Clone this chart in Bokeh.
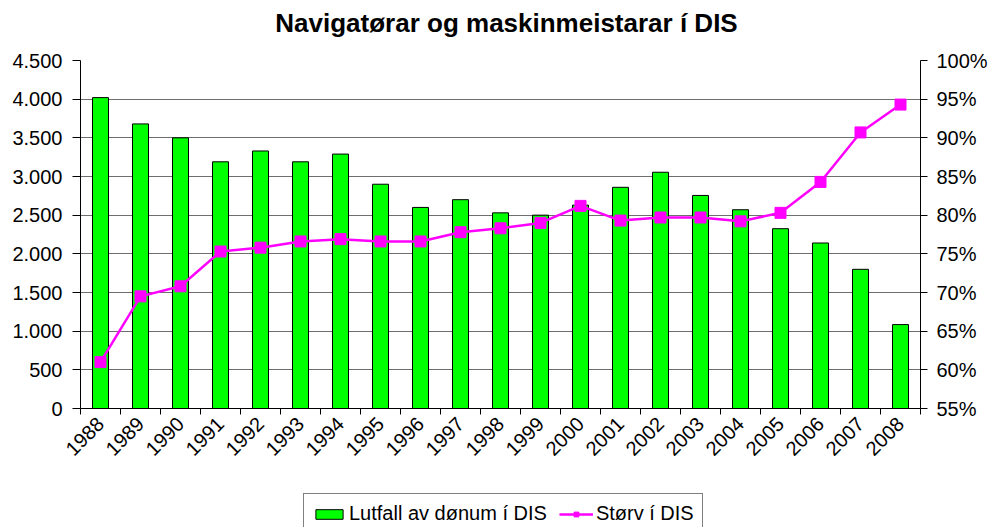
from bokeh.plotting import figure
from bokeh.layouts import column
from bokeh.models import (Range1d, LinearAxis, FixedTicker, PrintfTickFormatter,
                          Legend, LegendItem, Label)
from bokeh.embed import file_html
from bokeh.resources import INLINE
from math import pi

years = ["1988", "1989", "1990", "1991", "1992", "1993", "1994", "1995", "1996", "1997",
         "1998", "1999", "2000", "2001", "2002", "2003", "2004", "2005", "2006", "2007", "2008"]
lutfall = [4020, 3680, 3500, 3190, 3330, 3190, 3290, 2900, 2600, 2700,
           2530, 2500, 2630, 2860, 3055, 2755, 2570, 2325, 2140, 1800, 1085]
storv = [61.0, 69.5, 70.8, 75.3, 75.8, 76.6, 76.9, 76.6, 76.6, 77.8,
         78.3, 79.0, 81.2, 79.3, 79.7, 79.7, 79.2, 80.3, 84.3, 90.7, 94.3]
left_ticks = [0, 500, 1000, 1500, 2000, 2500, 3000, 3500, 4000, 4500]
left_labels = ["0", "500", "1.000", "1.500", "2.000", "2.500", "3.000", "3.500", "4.000", "4.500"]
right_ticks = [55, 60, 65, 70, 75, 80, 85, 90, 95, 100]

title_text = "Navigatørar og maskinmeistarar í DIS"
bar_name = "Lutfall av dønum í DIS"
line_name = "Størv í DIS"

FONT = "Liberation Sans"
BAR_FILL = "#00FF00"
LINE_COL = "#FF00FF"
idx = list(range(len(years)))
W = 994


def strip(h, yr):
    fig = figure(width=W, height=h, output_backend="svg", toolbar_location=None,
                 x_range=Range1d(-0.5, len(years) - 0.5), y_range=yr,
                 x_axis_location=None, y_axis_location=None,
                 min_border=0, min_border_left=0, min_border_right=0,
                 min_border_top=0, min_border_bottom=0)
    fig.frame_align = False
    fig.outline_line_color = None
    fig.background_fill_color = "white"
    fig.border_fill_color = "white"
    fig.xgrid.grid_line_color = None
    fig.ygrid.grid_line_color = None
    return fig


# ---- title strip ----
tf = strip(40, Range1d(0, 1))
tf.add_layout(Label(x=506, y=18, x_units="screen", y_units="screen", text=title_text,
                    text_align="center", text_baseline="alphabetic", text_font=FONT,
                    text_font_size="26px", text_font_style="bold", text_color="black"))

# ---- main chart ----
p = figure(width=W, height=443, output_backend="svg", toolbar_location=None,
           x_range=Range1d(-0.5, len(years) - 0.5), y_range=Range1d(0, 4500),
           min_border_left=80, min_border_right=74, min_border_top=20, min_border_bottom=75)
p.outline_line_color = None
p.background_fill_color = "white"
p.border_fill_color = "white"
p.xgrid.grid_line_color = None
p.extra_y_ranges = {"pct": Range1d(55, 100)}

xa = p.xaxis[0]
xa.ticker = FixedTicker(ticks=idx, minor_ticks=[i - 0.5 for i in range(len(years) + 1)])
xa.major_label_overrides = {i: y for i, y in zip(idx, years)}
xa.major_tick_out = 0
xa.major_tick_in = 0
xa.minor_tick_out = 6
xa.minor_tick_in = 0
xa.minor_tick_line_color = "black"
xa.axis_line_color = "black"
xa.major_label_orientation = pi / 4
xa.major_label_text_font = FONT
xa.major_label_text_font_size = "20px"
xa.major_label_text_color = "black"
xa.major_label_standoff = 6

ya = p.yaxis[0]
ya.ticker = FixedTicker(ticks=left_ticks)
ya.major_label_overrides = {t: l for t, l in zip(left_ticks, left_labels)}
ya.major_tick_out = 8
ya.major_tick_in = 0
ya.minor_tick_line_color = None
ya.axis_line_color = "black"
ya.major_label_text_font = FONT
ya.major_label_text_font_size = "20px"
ya.major_label_text_color = "black"
ya.major_label_standoff = 10

ra = LinearAxis(y_range_name="pct", ticker=FixedTicker(ticks=right_ticks),
                formatter=PrintfTickFormatter(format="%d%%"))
ra.major_tick_out = 7
ra.major_tick_in = 0
ra.minor_tick_line_color = None
ra.axis_line_color = "black"
ra.major_label_text_font = FONT
ra.major_label_text_font_size = "20px"
ra.major_label_text_color = "black"
ra.major_label_standoff = 9
p.add_layout(ra, "right")

p.ygrid.ticker = FixedTicker(ticks=left_ticks)
p.ygrid.grid_line_color = "#6e6e6e"
p.ygrid.grid_line_width = 1

p.vbar(x=idx, top=lutfall, width=0.4, fill_color=BAR_FILL, line_color="black", line_width=1)
p.line(x=idx, y=storv, y_range_name="pct", line_color=LINE_COL, line_width=2.5)
p.scatter(x=idx, y=storv, y_range_name="pct", marker="square", size=11,
          fill_color=LINE_COL, line_color=LINE_COL)

# ---- legend strip: same series, but its view lies far above them so only the keys show ----
lf = strip(44, Range1d(100000, 100001))
kb = lf.vbar(x=idx, top=lutfall, width=0.4, fill_color=BAR_FILL, line_color="black", line_width=1)
kl = lf.line(x=idx, y=storv, line_color=LINE_COL, line_width=2.5)
km = lf.scatter(x=idx, y=storv, marker="square", size=9, fill_color=LINE_COL, line_color=LINE_COL)
legend = Legend(items=[LegendItem(label=bar_name, renderers=[kb]),
                       LegendItem(label=line_name, renderers=[kl, km])],
                orientation="horizontal", location=(303, -7),
                border_line_color="black", border_line_width=1,
                label_text_font=FONT, label_text_font_size="20px", label_text_color="black",
                glyph_width=34, glyph_height=12, label_standoff=3, spacing=12,
                padding=8, margin=0, background_fill_alpha=1)
lf.add_layout(legend, "center")

layout = column(tf, p, lf, spacing=0)
open("out.html", "w").write(file_html(layout, INLINE))
